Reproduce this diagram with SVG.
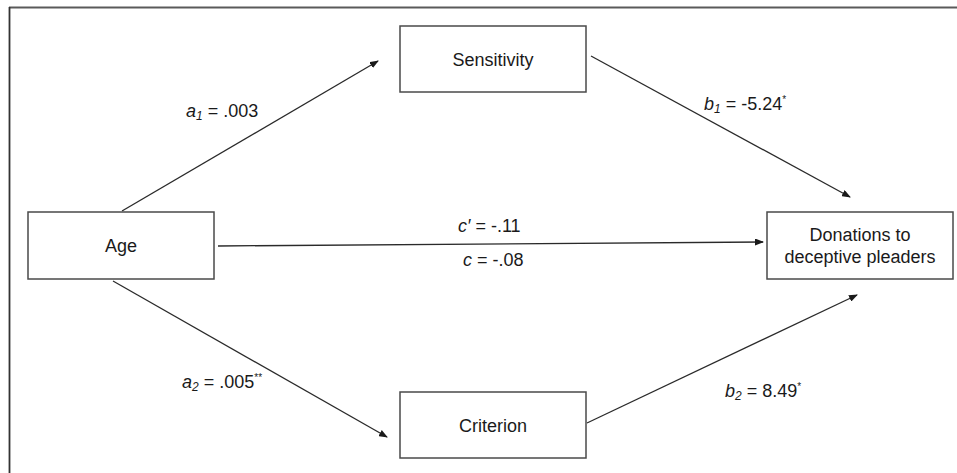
<svg xmlns="http://www.w3.org/2000/svg" width="957" height="473" viewBox="0 0 957 473">
<defs>
<style>
.box{fill:#fff;stroke:#4a4a4a;stroke-width:1.5}
.lbl{font-family:"Liberation Sans",Arial,sans-serif;font-size:18px;fill:#1a1a1a}
.nt{font-family:"Liberation Sans",Arial,sans-serif;font-size:18px;fill:#1a1a1a;text-anchor:middle}
.it{font-style:italic}
.sub{font-style:italic;font-size:12px}
.sup{font-size:10px}
.edge{stroke:#2a2a2a;stroke-width:1.3;fill:none;marker-end:url(#ah)}
</style>
<marker id="ah" markerUnits="userSpaceOnUse" markerWidth="9" markerHeight="7" refX="8" refY="3.5" orient="auto">
<path d="M0,0 L9,3.5 L0,7 z" fill="#1a1a1a"/>
</marker>
</defs>
<rect width="957" height="473" fill="#fff"/>
<g id="frame">
<line x1="9" y1="7.5" x2="957" y2="7.5" stroke="#5a5a5a" stroke-width="2"/>
<line x1="9.5" y1="7" x2="9.5" y2="473" stroke="#333" stroke-width="1.8"/>
</g>
<g id="connectors">
<line class="edge" x1="122" y1="211" x2="378" y2="61"/>
<line class="edge" x1="591" y1="56" x2="850" y2="197"/>
<line class="edge" x1="218" y1="246" x2="763" y2="242"/>
<line class="edge" x1="113" y1="281" x2="387" y2="437"/>
<line class="edge" x1="587" y1="423" x2="857" y2="295"/>
<text class="lbl" x="186" y="117"><tspan class="it">a</tspan><tspan class="sub" dy="3">1</tspan><tspan dy="-3"> = .003</tspan></text>
<text class="lbl" x="704" y="110"><tspan class="it">b</tspan><tspan class="sub" dy="3">1</tspan><tspan dy="-3"> = -5.24</tspan><tspan class="sup" dy="-7">*</tspan></text>
<text class="lbl" x="458" y="232"><tspan class="it">c′</tspan><tspan> = -.11</tspan></text>
<text class="lbl" x="463" y="266"><tspan class="it">c</tspan><tspan> = -.08</tspan></text>
<text class="lbl" x="182" y="388"><tspan class="it">a</tspan><tspan class="sub" dy="3">2</tspan><tspan dy="-3"> = .005</tspan><tspan class="sup" dy="-7">**</tspan></text>
<text class="lbl" x="725" y="397"><tspan class="it">b</tspan><tspan class="sub" dy="3">2</tspan><tspan dy="-3"> = 8.49</tspan><tspan class="sup" dy="-7">*</tspan></text>
</g>
<g id="age">
<rect class="box" x="28" y="212" width="186" height="67"/>
<text class="nt" x="121" y="252">Age</text>
</g>
<g id="sensitivity">
<rect class="box" x="400" y="26" width="186" height="66"/>
<text class="nt" x="493" y="66">Sensitivity</text>
</g>
<g id="criterion">
<rect class="box" x="400" y="392" width="186" height="66"/>
<text class="nt" x="493" y="432">Criterion</text>
</g>
<g id="donations">
<rect class="box" x="767" y="212" width="186" height="67"/>
<text class="nt" x="860" y="241">Donations to</text>
<text class="nt" x="860" y="263">deceptive pleaders</text>
</g>
</svg>
